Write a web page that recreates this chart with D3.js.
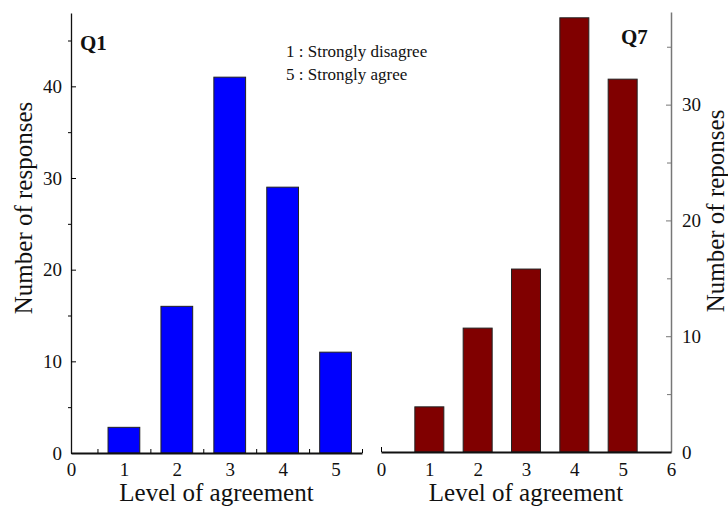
<!DOCTYPE html>
<html><head><meta charset="utf-8">
<script src="https://cdn.jsdelivr.net/npm/d3@7"></script>
<style>
body{margin:0;background:#fff;}
svg text{font-family:"Liberation Serif","Times New Roman",Times,serif !important;fill:#111;}
</style></head>
<body><svg id="c" width="728" height="508"></svg>
<script>
const levels = [1, 2, 3, 4, 5];
const q1Values = [2.8, 16, 41, 29, 11];
const q7Values = [3.9, 10.7, 15.8, 37.5, 32.2];
const q1YTicks = [0, 10, 20, 30, 40];
const q7YTicks = [0, 10, 20, 30];
const q1XTicks = [0, 1, 2, 3, 4, 5];
const q7XTicks = [0, 1, 2, 3, 4, 5, 6];
const legendLines = ["1 : Strongly disagree", "5 : Strongly agree"];

const svg = d3.select("#c");
const barW = 0.6;
const fmt = d3.format("d");
const SERIF = "'Liberation Serif', 'Times New Roman', Times, serif";

// ---------- Left panel (Q1) ----------
const x1 = d3.scaleLinear().domain([0, 5.5]).range([71, 362]);
const y1 = d3.scaleLinear().domain([0, 48]).range([453, 13]);

const g1 = svg.append("g");
g1.selectAll("rect").data(levels).join("rect")
  .attr("x", (d) => x1(d - barW / 2))
  .attr("width", x1(barW) - x1(0))
  .attr("y", (d, i) => y1(q1Values[i]))
  .attr("height", (d, i) => y1(0) - y1(q1Values[i]))
  .attr("fill", "#0000ff").attr("stroke", "#222").attr("stroke-width", 1);

const ya1 = g1.append("g").attr("transform", `translate(${x1(0)},0)`)
  .call(d3.axisLeft(y1).tickValues(q1YTicks).tickFormat(fmt).tickSizeInner(-5).tickSizeOuter(0).tickPadding(9));
g1.append("g").attr("transform", `translate(${x1(0)},0)`)
  .call(d3.axisLeft(y1).tickValues([5, 15, 25, 35, 45]).tickSizeInner(3).tickSizeOuter(0).tickFormat(""))
  .call(g => g.select(".domain").remove());
ya1.select(".domain").attr("stroke", "#111").attr("stroke-width", 1.3);

const xa1 = g1.append("g").attr("transform", `translate(0,${y1(0)})`)
  .call(d3.axisBottom(x1).tickValues(q1XTicks).tickFormat(fmt).tickSize(0).tickPadding(10));
xa1.select(".domain").attr("stroke", "#111").attr("stroke-width", 2);
g1.append("g").attr("transform", `translate(0,${y1(0)})`)
  .call(d3.axisBottom(x1).tickValues([0.5, 1.5, 2.5, 3.5, 4.5, 5.5]).tickSize(-4).tickFormat(""))
  .call(g => g.select(".domain").remove());

g1.append("text").attr("x", (x1(0) + x1(5.5)) / 2).attr("y", 501)
  .attr("text-anchor", "middle").attr("font-size", 25).text("Level of agreement");
g1.append("text").attr("transform", `translate(32,208) rotate(-90)`)
  .attr("text-anchor", "middle").attr("font-size", 25).text("Number of responses");
g1.append("text").attr("x", 80).attr("y", 50).attr("font-size", 21).attr("font-weight", "bold").text("Q1");

svg.append("g").selectAll("text").data(legendLines).join("text")
  .attr("x", 286).attr("y", (d, i) => 57 + i * 23)
  .attr("font-size", 17).text(d => d);

// ---------- Right panel (Q7) ----------
const x2 = d3.scaleLinear().domain([0, 6]).range([381, 671]);
const y2 = d3.scaleLinear().domain([0, 38]).range([452, 12]);
const g2 = svg.append("g");
g2.selectAll("rect").data(levels).join("rect")
  .attr("x", (d) => x2(d - barW / 2))
  .attr("width", x2(barW) - x2(0))
  .attr("y", (d, i) => y2(q7Values[i]))
  .attr("height", (d, i) => y2(0) - y2(q7Values[i]))
  .attr("fill", "#800000").attr("stroke", "#222").attr("stroke-width", 1);

const ya2 = g2.append("g").attr("transform", `translate(${x2(6)},0)`)
  .call(d3.axisRight(y2).tickValues(q7YTicks).tickFormat(fmt).tickSizeInner(-5).tickSizeOuter(0).tickPadding(11));
g2.append("g").attr("transform", `translate(${x2(6)},0)`)
  .call(d3.axisRight(y2).tickValues([5, 15, 25, 35]).tickSizeInner(-4).tickSizeOuter(0).tickFormat(""))
  .call(g => g.select(".domain").remove()).selectAll("line").attr("stroke", "#777");
ya2.select(".domain").attr("stroke", "#777").attr("stroke-width", 1.5);
ya2.selectAll("line").attr("stroke", "#777");

const xa2 = g2.append("g").attr("transform", `translate(0,${y2(0)})`)
  .call(d3.axisBottom(x2).tickValues(q7XTicks).tickFormat(fmt).tickSize(0).tickPadding(11));
xa2.select(".domain").attr("stroke", "#111").attr("stroke-width", 2);
g2.append("g").attr("transform", `translate(0,${y2(0)})`)
  .call(d3.axisBottom(x2).tickValues([0]).tickSize(-5).tickFormat(""))
  .call(g => g.select(".domain").remove());

g2.append("text").attr("x", (x2(0) + x2(6)) / 2).attr("y", 501)
  .attr("text-anchor", "middle").attr("font-size", 25).text("Level of agreement");
g2.append("text").attr("transform", `translate(724,211) rotate(-90)`)
  .attr("text-anchor", "middle").attr("font-size", 25).text("Number of reponses");
g2.append("text").attr("x", 621).attr("y", 44).attr("font-size", 21).attr("font-weight", "bold").text("Q7");

svg.selectAll(".tick text").attr("font-size", 19).style("font-family", SERIF);
svg.selectAll("text").style("font-family", SERIF);
</script></body></html>
